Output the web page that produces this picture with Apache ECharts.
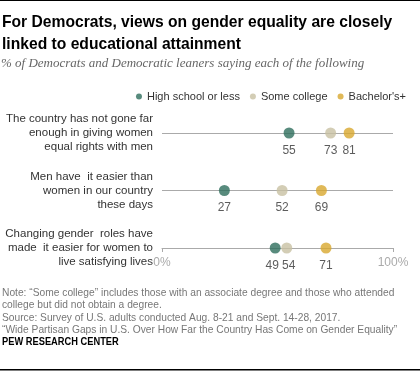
<!DOCTYPE html>
<html><head><meta charset="utf-8">
<script src="https://cdn.jsdelivr.net/npm/echarts@6/dist/echarts.min.js"></script>
<style>html,body{margin:0;padding:0;background:#fff}#c{width:420px;height:373px}</style>
</head><body><div id="c"></div>
<script>
const categories = [
  'The country has not gone far\nenough in giving women\nequal rights with men',
  'Men have  it easier than\nwomen in our country\nthese days',
  'Changing gender  roles have\nmade  it easier for women to\nlive satisfying lives'
];
const seriesNames = ['High school or less', 'Some college', "Bachelor's+"];
const highSchool = [55, 27, 49];
const someCollege = [73, 52, 54];
const bachelors = [81, 69, 71];
const xTicks = [0, 100];

const colors = ['#2e6e5c', '#c8c1a3', '#d8a72e'];
const allVals = [highSchool, someCollege, bachelors];
const SANS = '"Liberation Sans", Arial, sans-serif';

function buildData(si) {
  return allVals[si].map((v, row) => {
    let dx = 0;
    allVals.forEach((arr, sj) => {
      if (sj === si) return;
      const d = v - arr[row];
      if (Math.abs(d) < 8) dx += d < 0 ? -3 : 2;
    });
    const item = { value: [v, categories[row]] };
    if (dx) item.label = { offset: [dx, 0] };
    return item;
  });
}

const chart = echarts.init(document.getElementById('c'), null, { renderer: 'canvas' });
chart.setOption({
  animation: false,
  backgroundColor: '#fff',
  textStyle: { fontFamily: SANS },
  legend: {
    data: seriesNames.map(n => ({ name: n, icon: 'circle' })),
    right: 9, top: 86, itemWidth: 6, itemHeight: 6, itemGap: 10,
    textStyle: { fontSize: 11, color: '#333', fontFamily: SANS }
  },
  grid: { left: 162, right: 27, top: 133, bottom: 125, containLabel: false },
  xAxis: {
    type: 'value', min: 0, max: 100, interval: 100,
    axisLine: { show: true, lineStyle: { color: '#aaa', width: 1 } },
    axisTick: { show: true, length: 4, lineStyle: { color: '#aaa' } },
    splitLine: { show: false },
    axisLabel: { formatter: v => xTicks.includes(v) ? v + '%' : '', color: '#aaa', fontSize: 12, margin: 9, fontFamily: SANS }
  },
  yAxis: {
    type: 'category', inverse: true, boundaryGap: false, data: categories,
    axisLine: { show: false }, axisTick: { show: false },
    splitLine: { show: true, lineStyle: { color: '#aaa', width: 1 } },
    axisLabel: { color: '#333', fontSize: 11.5, lineHeight: 14, margin: 9, align: 'right', fontFamily: SANS }
  },
  series: seriesNames.map((name, si) => ({
    name, type: 'scatter', symbol: 'circle', symbolSize: 11,
    itemStyle: { color: colors[si] },
    label: { show: true, position: 'bottom', distance: 6, color: '#333', fontSize: 12, fontFamily: SANS,
      formatter: p => p.value[0] },
    data: buildData(si), z: 3 + si
  })),
  graphic: [
    { type: 'rect', shape: { x: 0, y: 0, width: 420, height: 1 }, style: { fill: '#000' } },
    { type: 'rect', shape: { x: 0, y: 369, width: 420, height: 1.5 }, style: { fill: '#000' } },
    { type: 'text', x: 2, y: 11, scaleX: 0.92, style: { text: 'For Democrats, views on gender equality are closely\nlinked to educational attainment',
      font: 'bold 17px ' + SANS, fill: '#000', lineHeight: 22 } },
    { type: 'text', x: 1, y: 57, style: { text: '% of Democrats and Democratic leaners saying each of the following',
      font: 'italic 13px "Liberation Serif", Georgia, serif', fill: '#666' } },
    { type: 'text', x: 2, y: 287, scaleX: 0.93, style: { text: 'Note: \u201cSome college\u201d includes those with an associate degree and those who attended\ncollege but did not obtain a degree.\nSource: Survey of U.S. adults conducted Aug. 8-21 and Sept. 14-28, 2017.\n\u201cWide Partisan Gaps in U.S. Over How Far the Country Has Come on Gender Equality\u201d',
      font: '11px ' + SANS, fill: '#777', lineHeight: 12.3 } },
    { type: 'text', x: 2, y: 337, scaleX: 0.93, style: { text: 'PEW RESEARCH CENTER', font: 'bold 10px ' + SANS, fill: '#000' } }
  ]
});
</script></body></html>
